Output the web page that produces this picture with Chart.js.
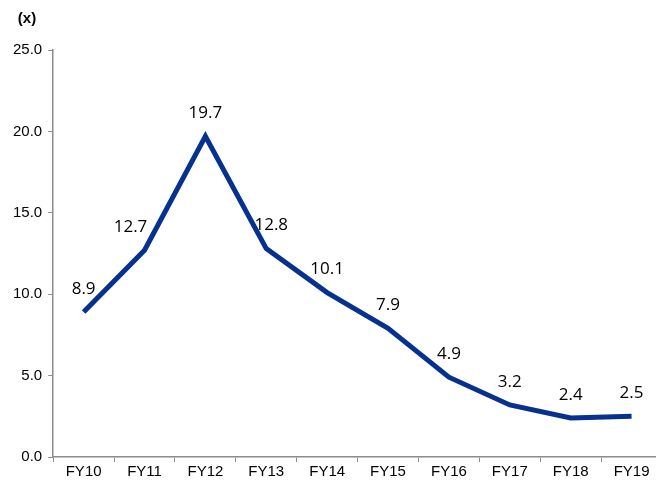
<!DOCTYPE html>
<html>
<head>
<meta charset="utf-8">
<script src="https://cdn.jsdelivr.net/npm/chart.js@4"></script>
<style>
  html, body { margin: 0; padding: 0; background: #fff; overflow: hidden; }
  #wrap { width: 662px; height: 482px; }
</style>
</head>
<body>
<div id="wrap"><canvas id="ratioChart"></canvas></div>
<script>
const years = ['FY10', 'FY11', 'FY12', 'FY13', 'FY14', 'FY15', 'FY16', 'FY17', 'FY18', 'FY19'];
const ratios = [8.9, 12.7, 19.7, 12.8, 10.1, 7.9, 4.9, 3.2, 2.4, 2.5];
const yTicks = [0, 5, 10, 15, 20, 25];

const lineColor = '#06318f';
const axisColor = '#8c8c8c';
const tickFont = '"Liberation Sans", Arial, sans-serif';
// small sideways nudges for labels that would sit on the line
const labelShift = { 1: -14, 3: 5 };

// value labels above each point, plus the "(x)" unit over the y axis
const labelPlugin = {
    id: 'pointLabels',
    afterDatasetsDraw: function (chart) {
        const ctx = chart.ctx;
        const meta = chart.getDatasetMeta(0);
        ctx.save();
        ctx.font = '17px "Open Sans", sans-serif';
        ctx.fillStyle = '#000';
        ctx.textAlign = 'center';
        ctx.textBaseline = 'middle';
        meta.data.forEach(function (pt, i) {
            const shift = labelShift[i] || 0;
            ctx.fillText(ratios[i].toFixed(1), pt.x + shift, pt.y - 23);
        });

        const y = chart.scales.y;
        ctx.font = 'bold 15px ' + tickFont;
        ctx.fillText('(x)', y.left + 20, 19);
        ctx.restore();
    }
};

const ctx = document.getElementById('ratioChart').getContext('2d');
const chart = new Chart(ctx, {
    type: 'line',
    data: {
        labels: years,
        datasets: [{
            data: ratios,
            borderColor: lineColor,
            borderWidth: 5,
            pointRadius: 0,
            tension: 0,
            fill: false
        }]
    },
    options: {
        responsive: true,
        maintainAspectRatio: false,
        animation: false,
        layout: {
            padding: { top: 50, right: 0, bottom: 0, left: 7 }
        },
        plugins: {
            legend: { display: false },
            tooltip: { enabled: false },
            title: { display: false }
        },
        scales: {
            x: {
                offset: true,
                grid: {
                    display: true,
                    offset: true,
                    drawOnChartArea: false,
                    drawTicks: true,
                    tickLength: 5,
                    color: axisColor
                },
                border: { color: axisColor, width: 1.5 },
                ticks: {
                    color: '#000',
                    font: { family: tickFont, size: 15 },
                    padding: 1,
                    maxRotation: 0
                }
            },
            y: {
                min: 0,
                max: 25,
                afterBuildTicks: function (scale) {
                    scale.ticks = yTicks.map(function (v) { return { value: v }; });
                },
                grid: {
                    display: true,
                    drawOnChartArea: false,
                    drawTicks: true,
                    tickLength: 5,
                    color: axisColor
                },
                border: { color: axisColor, width: 1.5 },
                ticks: {
                    color: '#000',
                    font: { family: tickFont, size: 15 },
                    padding: 6,
                    callback: function (v) { return Number(v).toFixed(1); }
                }
            }
        }
    },
    plugins: [labelPlugin]
});
</script>
</body>
</html>
